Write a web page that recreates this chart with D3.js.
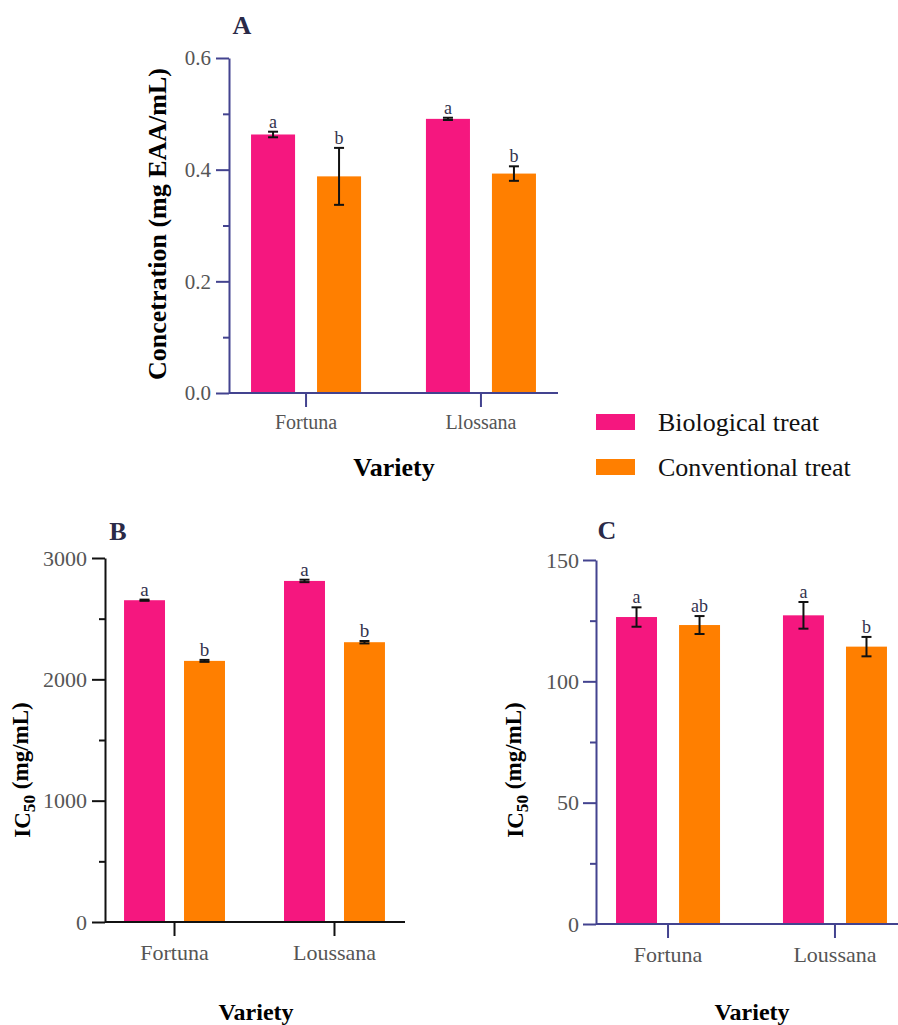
<!DOCTYPE html>
<html>
<head>
<meta charset="utf-8">
<script src="https://cdn.jsdelivr.net/npm/d3@7"></script>
<style>
  html, body { margin: 0; padding: 0; background: #fff; }
  svg { display: block; font-family: "Liberation Serif", "Times New Roman", serif; }
</style>
</head>
<body>
<svg id="chart" width="898" height="1025"></svg>
<script>
// ---------- DATA ----------
const seriesNames = ["Biological treat", "Conventional treat"];
const seriesColors = ["#F5177F", "#FF7F00"];

// Panel A: phenolic concentration
const categoriesA = ["Fortuna", "Llossana"];
const bioA = [0.463, 0.491];
const bioErrA = [0.005, 0.002];
const convA = [0.388, 0.393];
const convErrA = [0.051, 0.013];
const lettersBioA = ["a", "a"];
const lettersConvA = ["b", "b"];
const ticksA = [0, 0.2, 0.4, 0.6];
const minorTicksA = [0.1, 0.3, 0.5];

// Panel B: IC50
const categoriesB = ["Fortuna", "Loussana"];
const bioB = [2652, 2811];
const bioErrB = [5, 10];
const convB = [2152, 2306];
const convErrB = [8, 10];
const lettersBioB = ["a", "a"];
const lettersConvB = ["b", "b"];
const ticksB = [0, 1000, 2000, 3000];
const minorTicksB = [500, 1500, 2500];

// Panel C: IC50
const categoriesC = ["Fortuna", "Loussana"];
const bioC = [126.5, 127.2];
const bioErrC = [4, 5.5];
const convC = [123.2, 114.3];
const convErrC = [3.7, 4];
const lettersBioC = ["a", "a"];
const lettersConvC = ["ab", "b"];
const ticksC = [0, 50, 100, 150];
const minorTicksC = [25, 75, 125];

// ---------- DRAW ----------
const svg = d3.select("#chart");

function panel(o) {
  const g = svg.append("g");
  const y = d3.scaleLinear().domain([0, o.ymax]).range([o.y0, o.y1]);
  const x0 = d3.scaleBand().domain(o.cats).range([o.x0, o.x1])
    .paddingInner(o.pIn).paddingOuter(o.pOut);
  const x1 = d3.scaleBand().domain(seriesNames).range([0, x0.bandwidth()])
    .paddingInner(o.subPad).paddingOuter(0);

  const rows = [];
  o.cats.forEach((c, i) => {
    rows.push({cat: c, s: 0, v: o.bio[i], e: o.bioErr[i], l: o.lBio[i]});
    rows.push({cat: c, s: 1, v: o.conv[i], e: o.convErr[i], l: o.lConv[i]});
  });

  // bars
  g.selectAll("rect.bar").data(rows).join("rect")
    .attr("class", "bar")
    .attr("x", d => x0(d.cat) + x1(seriesNames[d.s]))
    .attr("width", x1.bandwidth())
    .attr("y", d => y(d.v))
    .attr("height", d => y(0) - y(d.v))
    .attr("fill", d => seriesColors[d.s]);

  // error bars
  const cx = d => x0(d.cat) + x1(seriesNames[d.s]) + x1.bandwidth() / 2;
  const eg = g.append("g").attr("stroke", "#111").attr("stroke-width", 2).attr("fill", "none");
  rows.forEach(d => {
    const xc = cx(d), yt = y(d.v + d.e), yb = y(d.v - d.e);
    eg.append("line").attr("x1", xc).attr("x2", xc).attr("y1", yt).attr("y2", yb);
    eg.append("line").attr("x1", xc - 5).attr("x2", xc + 5).attr("y1", yt).attr("y2", yt);
    eg.append("line").attr("x1", xc - 5).attr("x2", xc + 5).attr("y1", yb).attr("y2", yb);
  });

  // significance letters
  g.selectAll("text.sig").data(rows).join("text")
    .attr("class", "sig")
    .attr("x", cx)
    .attr("y", d => y(d.v + d.e) - 4)
    .attr("text-anchor", "middle")
    .attr("font-size", o.sigSize)
    .attr("fill", "#33334d")
    .text(d => d.l);

  // y axis
  const ya = g.append("g").attr("transform", `translate(${o.x0},0)`)
    .call(d3.axisLeft(y).tickValues(o.ticks).tickFormat(o.fmt).tickSize(13).tickSizeOuter(0).tickPadding(o.yPad));
  const yMinor = g.append("g").attr("transform", `translate(${o.x0},0)`)
    .call(d3.axisLeft(y).tickValues(o.minor).tickFormat("").tickSize(6).tickSizeOuter(0));
  yMinor.select(".domain").remove();

  // x axis
  const xa = g.append("g").attr("transform", `translate(0,${o.y0})`)
    .call(d3.axisBottom(x0).tickSize(14).tickSizeOuter(0).tickPadding(o.xPad));
  xa.select(".domain").attr("d", `M${o.x0},0H${o.xEnd}`);

  [ya, yMinor, xa].forEach(a => {
    a.selectAll("path,line").attr("stroke", o.axisColor).attr("stroke-width", 2);
  });
  ya.selectAll("text").attr("font-size", o.tickSize).attr("fill", "#555").attr("font-family", "Liberation Serif");
  xa.selectAll("text").attr("font-size", o.catSize).attr("fill", "#555").attr("font-family", "Liberation Serif");

  // panel letter
  g.append("text").attr("x", o.titleX).attr("y", o.titleY)
    .attr("text-anchor", "middle").attr("font-weight", "bold")
    .attr("font-size", 26).attr("fill", "#2a2a48").text(o.title);

  // x title
  g.append("text").attr("x", o.xtX).attr("y", o.xtY)
    .attr("text-anchor", "middle").attr("font-weight", "bold")
    .attr("font-size", o.xtSize).attr("fill", "#000").text("Variety");

  // y title
  const yt = g.append("text")
    .attr("transform", `translate(${o.ytX},${o.ytY}) rotate(-90)`)
    .attr("text-anchor", "middle").attr("font-weight", "bold")
    .attr("font-size", o.ytSize).attr("fill", "#000");
  o.ytParts.forEach(p => {
    const t = yt.append("tspan").text(p.t);
    if (p.sub) t.attr("font-size", o.ytSize * 0.75).attr("dy", "0.3em");
    if (p.after) t.attr("dy", "-0.3em");
  });
}

panel({
  cats: categoriesA, bio: bioA, bioErr: bioErrA, conv: convA, convErr: convErrA,
  lBio: lettersBioA, lConv: lettersConvA, ticks: ticksA, minor: minorTicksA,
  fmt: d3.format(".1f"), ymax: 0.6, y0: 393, y1: 58, x0: 229, x1: 558, xEnd: 558,
  pIn: 0.371, pOut: 0.126, subPad: 0.333, axisColor: "#43438f",
  tickSize: 21, catSize: 20, sigSize: 18, yPad: 5, xPad: 8,
  title: "A", titleX: 242, titleY: 34,
  xtX: 394, xtY: 476, xtSize: 26,
  ytX: 166, ytY: 224, ytSize: 26,
  ytParts: [{t: "Concetration (mg EAA/mL)"}]
});

panel({
  cats: categoriesB, bio: bioB, bioErr: bioErrB, conv: convB, convErr: convErrB,
  lBio: lettersBioB, lConv: lettersConvB, ticks: ticksB, minor: minorTicksB,
  fmt: d3.format("d"), ymax: 3000, y0: 922, y1: 558, x0: 105, x1: 404, xEnd: 405,
  pIn: 0.369, pOut: 0.119, subPad: 0.317, axisColor: "#111",
  tickSize: 22, catSize: 22, sigSize: 19, yPad: 5, xPad: 8,
  title: "B", titleX: 118, titleY: 540,
  xtX: 256, xtY: 1020, xtSize: 24,
  ytX: 30, ytY: 770, ytSize: 23,
  ytParts: [{t: "IC"}, {t: "50", sub: true}, {t: " (mg/mL)", after: true}]
});

panel({
  cats: categoriesC, bio: bioC, bioErr: bioErrC, conv: convC, convErr: convErrC,
  lBio: lettersBioC, lConv: lettersConvC, ticks: ticksC, minor: minorTicksC,
  fmt: d3.format("d"), ymax: 150, y0: 924, y1: 560, x0: 596, x1: 907, xEnd: 907,
  pIn: 0.377, pOut: 0.12, subPad: 0.35, axisColor: "#43438f",
  tickSize: 22, catSize: 22, sigSize: 18, yPad: 4, xPad: 8,
  title: "C", titleX: 607, titleY: 539,
  xtX: 752, xtY: 1020, xtSize: 24,
  ytX: 523, ytY: 770, ytSize: 23,
  ytParts: [{t: "IC"}, {t: "50", sub: true}, {t: " (mg/mL)", after: true}]
});

// legend
const leg = svg.append("g");
seriesNames.forEach((s, i) => {
  leg.append("rect").attr("x", 596).attr("y", 414 + i * 45).attr("width", 39).attr("height", 16)
    .attr("fill", seriesColors[i]);
  leg.append("text").attr("x", 658).attr("y", 431 + i * 45)
    .attr("font-size", 26).attr("fill", "#111").text(s);
});
</script>
</body>
</html>
